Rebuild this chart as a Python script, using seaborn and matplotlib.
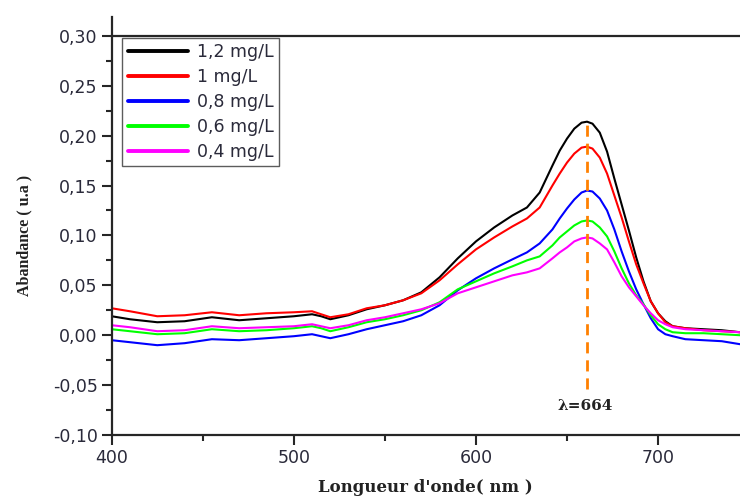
import numpy as np
import pandas as pd
import matplotlib
matplotlib.use("Agg")
import matplotlib.pyplot as plt
import seaborn as sns
from matplotlib.ticker import MultipleLocator, FuncFormatter

# wavelength grid (nm) and absorbance
wavelength = [400, 410, 425, 440, 455, 470, 485, 500, 510, 515, 520, 530,
              540, 550, 560, 570, 580, 590, 600, 610, 620, 628,
              635, 642, 646, 650, 654, 658, 661, 664,
              668, 672, 676, 680, 684, 688, 692, 696, 700, 704, 708,
              715, 725, 735, 745]

c_1_2 = [0.019, 0.016, 0.013, 0.014, 0.018, 0.015, 0.017, 0.019, 0.021, 0.019, 0.016, 0.020,
         0.026, 0.030, 0.035, 0.043, 0.058, 0.077, 0.094, 0.108, 0.120, 0.128,
         0.143, 0.170, 0.185, 0.197, 0.207, 0.213, 0.214, 0.212,
         0.203, 0.184, 0.157, 0.131, 0.105, 0.078, 0.054, 0.034, 0.022, 0.014, 0.009,
         0.007, 0.006, 0.005, 0.003]
c_1 = [0.027, 0.024, 0.019, 0.020, 0.023, 0.020, 0.022, 0.023, 0.024, 0.021, 0.018, 0.021,
       0.027, 0.030, 0.035, 0.042, 0.055, 0.071, 0.086, 0.098, 0.109, 0.117,
       0.128, 0.150, 0.162, 0.173, 0.182, 0.188, 0.189, 0.187,
       0.178, 0.162, 0.140, 0.118, 0.094, 0.071, 0.052, 0.034, 0.022, 0.013, 0.009,
       0.007, 0.005, 0.004, 0.003]
c_0_8 = [-0.005, -0.007, -0.010, -0.008, -0.004, -0.005, -0.003, -0.001, 0.001, -0.001, -0.003, 0.001,
         0.006, 0.010, 0.014, 0.020, 0.030, 0.045, 0.057, 0.067, 0.076, 0.083,
         0.092, 0.106, 0.117, 0.127, 0.136, 0.143, 0.145, 0.144,
         0.137, 0.125, 0.106, 0.084, 0.064, 0.046, 0.031, 0.017, 0.006, 0.001, -0.001,
         -0.004, -0.005, -0.006, -0.009]
c_0_6 = [0.006, 0.004, 0.001, 0.002, 0.006, 0.004, 0.005, 0.007, 0.009, 0.007, 0.004, 0.008,
         0.013, 0.016, 0.020, 0.025, 0.033, 0.046, 0.054, 0.062, 0.069, 0.075,
         0.079, 0.090, 0.098, 0.104, 0.110, 0.114, 0.115, 0.114,
         0.108, 0.099, 0.084, 0.067, 0.052, 0.040, 0.031, 0.020, 0.011, 0.006, 0.003,
         0.002, 0.002, 0.001, 0.000]
c_0_4 = [0.010, 0.008, 0.004, 0.005, 0.009, 0.007, 0.008, 0.009, 0.011, 0.009, 0.007, 0.010,
         0.015, 0.018, 0.022, 0.026, 0.032, 0.042, 0.048, 0.054, 0.060, 0.063,
         0.067, 0.077, 0.083, 0.088, 0.094, 0.097, 0.098, 0.097,
         0.092, 0.086, 0.073, 0.059, 0.048, 0.039, 0.030, 0.022, 0.015, 0.011, 0.008,
         0.006, 0.005, 0.004, 0.003]

labels = ["1,2 mg/L", "1 mg/L", "0,8 mg/L", "0,6 mg/L", "0,4 mg/L"]
colors = ["#000000", "#ff0000", "#0000ff", "#00ff00", "#ff00ff"]
peak_x = 661
peak_label = "λ=664"

df = pd.concat([
    pd.DataFrame({"wl": wavelength, "abs": vals, "conc": lab})
    for vals, lab in zip([c_1_2, c_1, c_0_8, c_0_6, c_0_4], labels)
])

sns.set_style("ticks")
plt.rcParams["font.family"] = ["DejaVu Sans"]
serif = ["DejaVu Serif"]

fig = plt.figure(figsize=(7.4, 4.98), dpi=100)
ax = fig.add_axes([0.151, 0.1265, 0.849, 0.8015])

sns.lineplot(data=df, x="wl", y="abs", hue="conc", hue_order=labels,
             palette=colors, linewidth=1.5, ax=ax, sort=True)

# peak marker
ax.plot([peak_x, peak_x], [-0.054, 0.214], color="#ff8000", linestyle=(0, (4, 2.5)), lw=2)
ax.text(peak_x - 1, -0.071, peak_label, ha="center", va="center", fontsize=11,
        fontweight="bold", family=serif, color="#222222")

ax.set_xlim(400, 745)
ax.set_ylim(-0.10, 0.30)
ax.xaxis.set_major_locator(MultipleLocator(100))
ax.xaxis.set_minor_locator(MultipleLocator(50))
ax.yaxis.set_major_locator(MultipleLocator(0.05))
ax.yaxis.set_minor_locator(MultipleLocator(0.025))
ax.yaxis.set_major_formatter(FuncFormatter(lambda v, p: f"{v:.2f}".replace(".", ",")))
ax.tick_params(which="major", direction="out", length=7, width=1.5, labelsize=12.5,
               labelcolor="#2a2a3a", pad=3)
ax.tick_params(which="minor", direction="out", length=4, width=1.5)

for s in ["left", "bottom", "top"]:
    ax.spines[s].set_linewidth(1.6)
ax.spines["right"].set_visible(False)
ax.spines["left"].set_bounds(-0.10, 0.319)

ax.set_xlabel("Longueur d'onde( nm )", fontsize=12, fontweight="bold",
              family=serif, color="#222222", labelpad=9)
ax.set_ylabel("Abandance ( u.a )", fontsize=11.5, fontweight="bold",
              family=["Liberation Serif"], color="#222222", labelpad=15)

leg = ax.legend(loc="upper left", bbox_to_anchor=(0.017, 0.995), fontsize=12.5,
                frameon=True, fancybox=False, handlelength=3.5, borderpad=0.3,
                labelspacing=0.4, handletextpad=0.5, borderaxespad=0)
leg.get_frame().set_edgecolor("#333333")
leg.get_frame().set_linewidth(1.0)
for h in leg.get_lines():
    h.set_linewidth(2.8)
for t in leg.get_texts():
    t.set_color("#2a2a3a")

fig.savefig("out.png", dpi=100)
